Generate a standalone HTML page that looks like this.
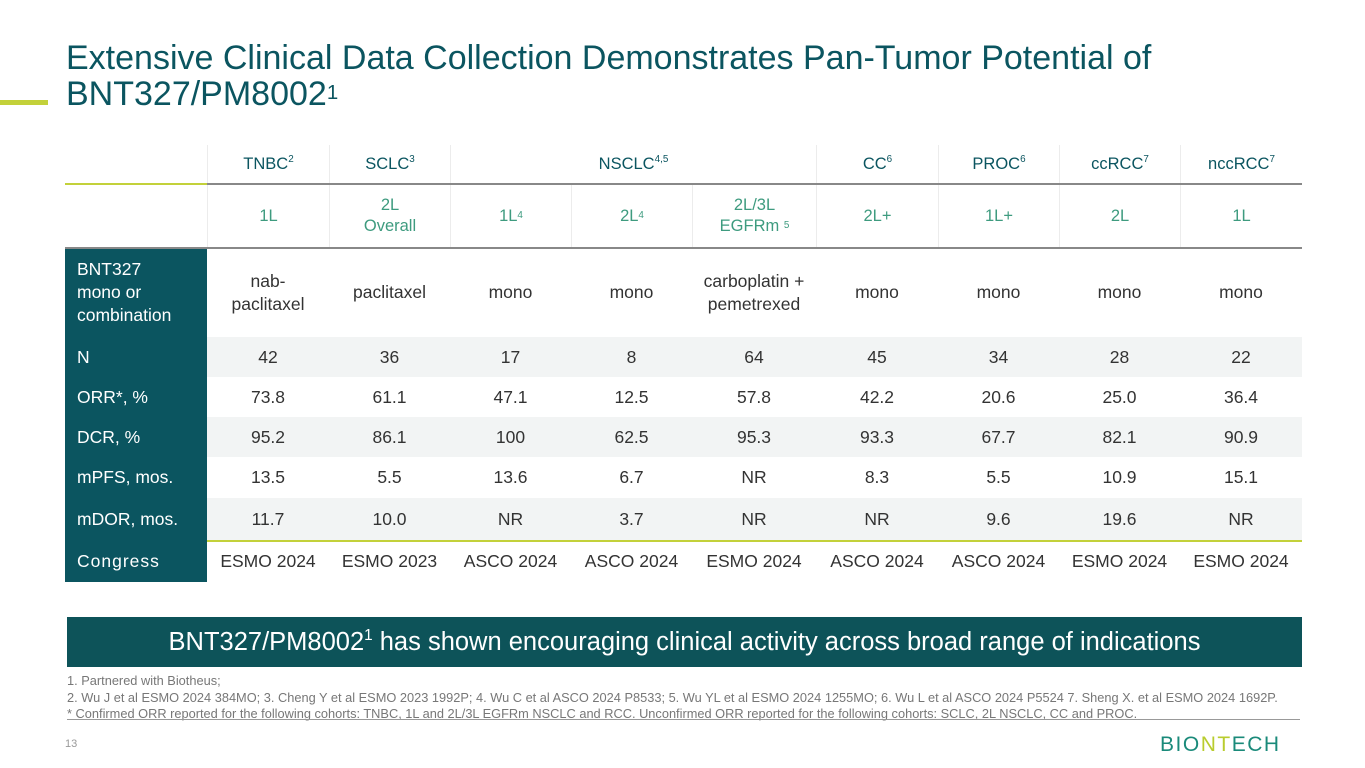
<!DOCTYPE html>
<html><head><meta charset="utf-8"><style>
body{margin:0;width:1365px;height:768px;background:#fff;position:relative;overflow:hidden;font-family:"Liberation Sans",sans-serif;}
.a{position:absolute;}
.c{position:absolute;display:flex;align-items:center;justify-content:center;text-align:center;box-sizing:border-box;}
sup{font-size:60%;vertical-align:top;position:relative;top:-1px;}
</style></head><body>
<div class="a" style="left:66px;top:40px;font-size:34px;line-height:36px;color:#0b5560;white-space:nowrap;">Extensive Clinical Data Collection Demonstrates Pan-Tumor Potential of<br>BNT327/PM8002<sup>1</sup></div>
<div class="a" style="left:0;top:100px;width:48px;height:5px;background:#c3d13a;"></div>
<div id="tbl"></div>
<div class="c" style="left:67px;top:617px;width:1235px;height:50px;background:#0d5359;color:#fff;font-size:25.5px;"><span>BNT327/PM8002<sup>1</sup> has shown encouraging clinical activity across broad range of indications</span></div>
<div class="a" style="left:67px;top:673px;font-size:12.8px;line-height:16.5px;color:#777;white-space:nowrap;">1. Partnered with Biotheus;<br>2. Wu J et al ESMO 2024 384MO; 3. Cheng Y et al ESMO 2023 1992P; 4. Wu C et al ASCO 2024 P8533; 5. Wu YL et al ESMO 2024 1255MO; 6. Wu L et al ASCO 2024 P5524 7. Sheng X. et al ESMO 2024 1692P.<br>* Confirmed ORR reported for the following cohorts: TNBC, 1L and 2L/3L EGFRm NSCLC and RCC. Unconfirmed ORR reported for the following cohorts: SCLC, 2L NSCLC, CC and PROC.</div>
<div class="a" style="left:67px;top:719px;width:1233px;height:1px;background:#999;"></div>
<div class="a" style="left:65px;top:738px;font-size:11px;color:#999;">13</div>
<div class="a" style="left:1160px;top:733px;font-size:21px;letter-spacing:1.5px;color:#1a8a7a;">BIO<span style="color:#b9cc2e">NT</span>ECH</div>
<script>
const colEdges=[207,329,450,571,692,816,938,1059,1180,1302];
const groups=[["TNBC","2",0,1],["SCLC","3",1,2],["NSCLC","4,5",2,5],["CC","6",5,6],["PROC","6",6,7],["ccRCC","7",7,8],["nccRCC","7",8,9]];
const lines=["1L","2L<br>Overall","1L<sup>4</sup>","2L<sup>4</sup>","2L/3L<br>EGFRm <sup>5</sup>","2L+","1L+","2L","1L"];
const rowLabels=["BNT327<br>mono or<br>combination","N","ORR*, %","DCR, %","mPFS, mos.","mDOR, mos.","Congress"];
const combo=["nab-<br>paclitaxel","paclitaxel","mono","mono","carboplatin +<br>pemetrexed","mono","mono","mono","mono"];
const nVals=["42","36","17","8","64","45","34","28","22"];
const orrVals=["73.8","61.1","47.1","12.5","57.8","42.2","20.6","25.0","36.4"];
const dcrVals=["95.2","86.1","100","62.5","95.3","93.3","67.7","82.1","90.9"];
const pfsVals=["13.5","5.5","13.6","6.7","NR","8.3","5.5","10.9","15.1"];
const dorVals=["11.7","10.0","NR","3.7","NR","NR","9.6","19.6","NR"];
const congress=["ESMO 2024","ESMO 2023","ASCO 2024","ASCO 2024","ESMO 2024","ASCO 2024","ASCO 2024","ESMO 2024","ESMO 2024"];
const rowTops=[248,337,377,417,457,498,541,582];
const T=document.getElementById('tbl');
function box(name,l,t,w,h,css,html){const d=document.createElement('div');d.className='c';


d.style.cssText=`left:${l}px;top:${t}px;width:${w}px;height:${h}px;`+css;if(html)d.innerHTML='<span>'+html+'</span>';T.appendChild(d);return d;}
[1,3,5].forEach(r=>box('row-stripe',207,rowTops[r],1095,rowTops[r+1]-rowTops[r],'background:#f2f4f4;'));
box('label-column',65,248,142,334,'background:#0b5560;');
for(let i=0;i<colEdges.length-1;i++){box('header-divider',colEdges[i],145,1,103,'background:#ececec;');}
groups.forEach(g=>{const l=colEdges[g[2]],r=colEdges[g[3]];
box('cancer-header',l+1,145,r-l-1,38,'color:#0b5560;font-size:16.5px;background:#fff;',g[0]+'<sup>'+g[1]+'</sup>');});
lines.forEach((t,i)=>box('line-header',colEdges[i]+1,184,colEdges[i+1]-colEdges[i]-1,64,'color:#3e9b7f;font-size:16.5px;line-height:21px;',t));
box('header-rule-accent',65,183,142,2,'background:#c3d13a;');
box('header-rule',207,183,1095,2,'background:#888;');
box('header-rule',65,247,1237,2,'background:#888;');
box('congress-rule',207,540,1095,2,'background:#c3d13a;');
rowLabels.forEach((t,r)=>{box('row-label',65,rowTops[r],142,rowTops[r+1]-rowTops[r],'color:#fff;font-size:17.5px;line-height:23px;justify-content:flex-start;text-align:left;padding-left:12px;'+(r==6?'letter-spacing:1px;':''),t);});
const data=[combo,nVals,orrVals,dcrVals,pfsVals,dorVals,congress];
data.forEach((arr,r)=>arr.forEach((v,i)=>{box('cell',colEdges[i],rowTops[r],colEdges[i+1]-colEdges[i],rowTops[r+1]-rowTops[r],'color:#333;font-size:17.5px;line-height:23px;white-space:nowrap;',v);}));
</script>
</body></html>
